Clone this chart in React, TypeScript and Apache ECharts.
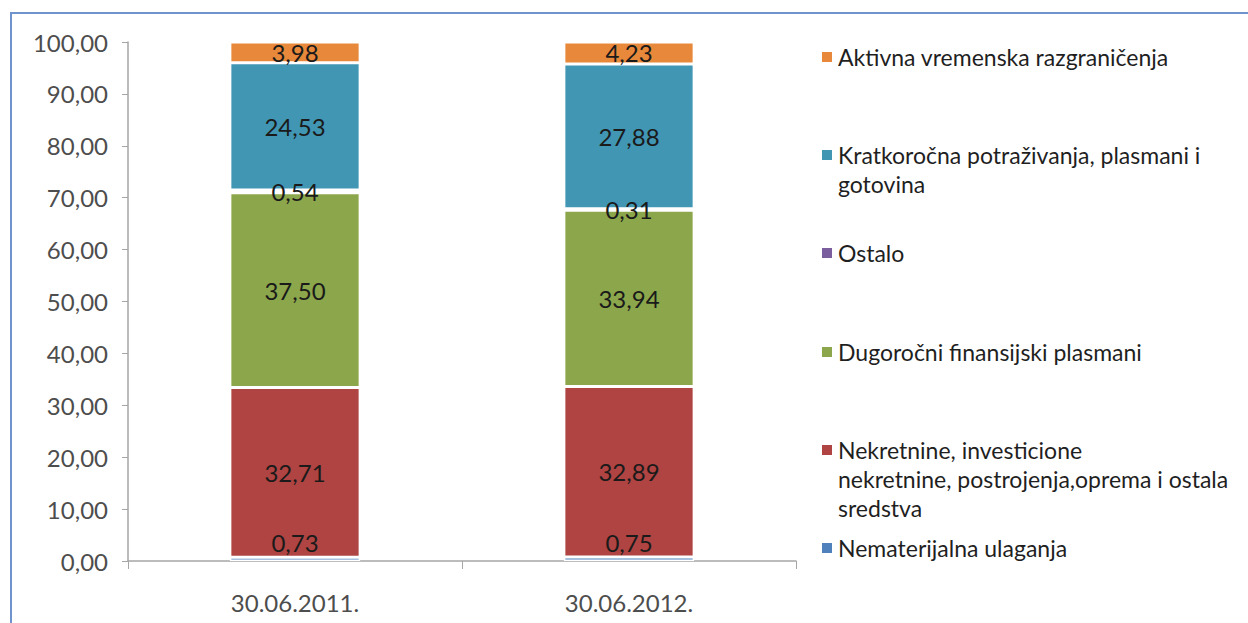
import React, { useEffect, useRef } from "react";
import * as echarts from "echarts";

const categories = ["30.06.2011.", "30.06.2012."];
const nematerijalna = [0.73, 0.75];
const nekretnine = [32.71, 32.89];
const dugorocni = [37.5, 33.94];
const ostalo = [0.54, 0.31];
const kratkorocna = [24.53, 27.88];
const aktivna = [3.98, 4.23];

const seriesNames = [
  "Nematerijalna ulaganja",
  "Nekretnine, investicione nekretnine, postrojenja,oprema i ostala sredstva",
  "Dugoročni finansijski plasmani",
  "Ostalo",
  "Kratkoročna potraživanja, plasmani i gotovina",
  "Aktivna vremenska razgraničenja",
];
const legendLines: Record<string, string[]> = {
  [seriesNames[0]]: ["Nematerijalna ulaganja"],
  [seriesNames[1]]: ["Nekretnine, investicione", "nekretnine, postrojenja,oprema i ostala", "sredstva"],
  [seriesNames[2]]: ["Dugoročni finansijski plasmani"],
  [seriesNames[3]]: ["Ostalo"],
  [seriesNames[4]]: ["Kratkoročna potraživanja, plasmani i", "gotovina"],
  [seriesNames[5]]: ["Aktivna vremenska razgraničenja"],
};
const seriesData = [nematerijalna, nekretnine, dugorocni, ostalo, kratkorocna, aktivna];
const colors = ["#4F81BD", "#AF4442", "#8CA64B", "#7B5E9E", "#4196B4", "#E8883A"];
// legend order top->bottom, and first-line centre of each entry
const legendOrder = [5, 4, 3, 2, 1, 0];
const legendCenters = [57, 155, 253, 352, 450, 548];

const FONT = "Lato";
const LH = 29;

function fmt(v: number) {
  return v.toFixed(2).replace(".", ",");
}

export default function App() {
  const ref = useRef<HTMLDivElement>(null);
  useEffect(() => {
    if (!ref.current) return;
    const chart = echarts.init(ref.current, null, { renderer: "svg" });
    const legends = legendOrder.map((si, i) => {
      const name = seriesNames[si];
      const n = legendLines[name].length;
      return {
        data: [name],
        orient: "vertical",
        left: 820,
        top: legendCenters[i] - ((2 * n - 1) * LH) / 2,
        padding: 0,
        icon: "rect",
        itemWidth: 12,
        itemHeight: 12,
        selectedMode: false,
        formatter: (nm: string) => {
          const lines = legendLines[nm];
          const pad = new Array(lines.length - 1).fill(" ");
          return pad.concat(lines).join("\n");
        },
        textStyle: {
          fontFamily: FONT,
          fontSize: 23,
          color: "#1f1f1f",
          lineHeight: LH,
        },
      };
    });
    chart.setOption({
      animation: false,
      backgroundColor: "#ffffff",
      grid: { left: 128, right: 452, top: 42, bottom: 62 },
      legend: legends,
      xAxis: {
        type: "category",
        data: categories,
        axisLine: { lineStyle: { color: "#a6a6a6", width: 1.5 } },
        axisTick: { show: true, length: 8, lineStyle: { color: "#a6a6a6" } },
        axisLabel: { fontFamily: FONT, fontSize: 24, color: "#4d4d4d", margin: 29 },
      },
      yAxis: {
        type: "value",
        min: 0,
        max: 100,
        interval: 10,
        splitLine: { show: false },
        axisLine: { show: true, lineStyle: { color: "#a6a6a6", width: 1.5 } },
        axisTick: { show: true, length: 6, inside: false, lineStyle: { color: "#a6a6a6" } },
        axisLabel: {
          fontFamily: FONT,
          fontSize: 24,
          color: "#4d4d4d",
          margin: 20,
          formatter: (v: number) => fmt(v),
        },
      },
      series: seriesNames.map((name, i) => ({
        name,
        type: "bar",
        stack: "total",
        barWidth: "39%",
        data: seriesData[i],
        itemStyle: { color: colors[i], borderColor: "#ffffff", borderWidth: 1.5 },
        label: {
          show: true,
          position: i === 0 ? "top" : "inside",
          distance: 3,
          fontFamily: FONT,
          fontSize: 24,
          color: "#1a1a1a",
          formatter: (p: any) => fmt(p.value),
        },
      })),
      graphic: [
        {
          type: "rect",
          x: 11,
          y: 13,
          shape: { width: 1400, height: 800 },
          style: { fill: "none", stroke: "#6f93cc", lineWidth: 2 },
          silent: true,
          z: -1,
        },
      ],
    });
    return () => chart.dispose();
  }, []);
  return (
    <div
      ref={ref}
      style={{ position: "fixed", left: 0, top: 0, width: 1248, height: 623, background: "#fff" }}
    />
  );
}
